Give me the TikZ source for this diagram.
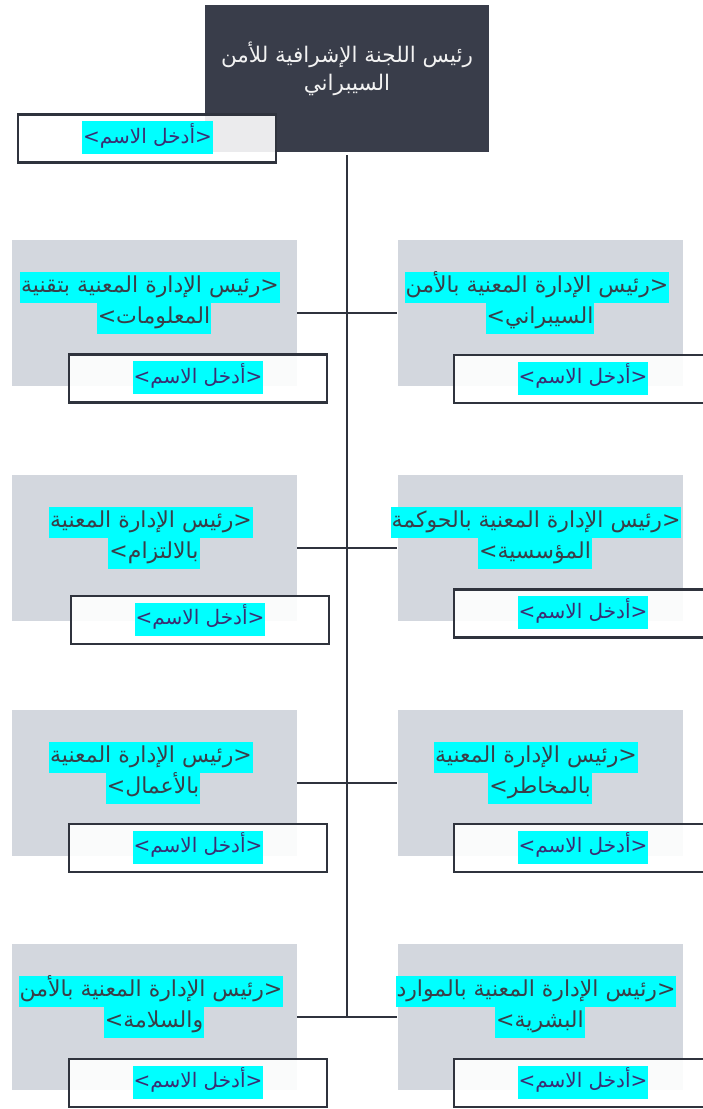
\documentclass[tikz,border=0pt]{standalone}
\usepackage{fontspec}
\newfontfamily\arabicfont[Script=Arabic]{DejaVu Sans}
\TeXXeTstate=1
\definecolor{topdark}{HTML}{393D4A}
\definecolor{boxgray}{HTML}{D3D7DE}
\definecolor{linedark}{HTML}{2F333D}
\definecolor{txtgray}{HTML}{3A3E48}
\definecolor{namecol}{HTML}{3B2E73}
\definecolor{titlecol}{HTML}{F2F2F2}
\definecolor{hlcyan}{HTML}{00FFFF}
\newcommand{\ar}[1]{\beginR #1\endR}
\tikzset{
  topbox/.style={fill=topdark, draw=none, minimum width=284pt, minimum height=147pt, inner sep=0pt},
  graybox/.style={fill=boxgray, draw=none, minimum width=285pt, minimum height=146pt, inner sep=0pt},
  namebox/.style={draw=linedark, line width=2.4pt, fill=white, fill opacity=0.9, minimum width=258pt, minimum height=48pt, inner sep=0pt},
  hl/.style={fill=hlcyan, inner xsep=1pt, inner ysep=0pt, text height=21pt, text depth=10pt, text=txtgray, font=\arabicfont\fontsize{22}{24}\selectfont},
  hlname/.style={fill=hlcyan, inner xsep=1pt, inner ysep=0pt, text height=22pt, text depth=11pt, text=namecol, font=\arabicfont\fontsize{20}{24}\selectfont},
  titletext/.style={inner sep=0pt, text=titlecol, font=\arabicfont\fontsize{21.5}{24}\selectfont},
  conn/.style={draw=linedark, line width=2.4pt},
}
\begin{document}
\begin{tikzpicture}[x=1pt,y=-1pt]
\useasboundingbox (0,0) rectangle (702,1109);
% top box
\node[topbox] (top) at (347,78.5) {};
\node[titletext, anchor=base] (t1) at (347,62) {\ar{رئيس اللجنة الإشرافية للأمن}};
\node[titletext, anchor=base] (t2) at (347,90) {\ar{السيبراني}};
% gray boxes
\node[graybox] (L1) at (154.5,313) {};
\node[graybox] (R1) at (540,313) {};
\node[graybox] (L2) at (154.5,548) {};
\node[graybox] (R2) at (540,548) {};
\node[graybox] (L3) at (154.5,783) {};
\node[graybox] (R3) at (540,783) {};
\node[graybox] (L4) at (154.5,1017) {};
\node[graybox] (R4) at (540,1017) {};
% junctions
\coordinate (j1) at (347,313);
\coordinate (j2) at (347,548);
\coordinate (j3) at (347,783);
\coordinate (j4) at (347,1017);
\draw[conn] ([yshift=-3pt]top.south) -- (j4);
\draw[conn] (L1.east) -- (j1) -- (R1.west);
\draw[conn] (L2.east) -- (j2) -- (R2.west);
\draw[conn] (L3.east) -- (j3) -- (R3.west);
\draw[conn] (L4.east) -- (j4) -- (R4.west);
% titles in gray boxes
\node[hl] (L1a) at (150,287) {\ar{<رئيس الإدارة المعنية بتقنية}};
\node[hl] (L1b) at (154,318) {\ar{المعلومات>}};
\node[hl] (R1a) at (537,287) {\ar{<رئيس الإدارة المعنية بالأمن}};
\node[hl] (R1b) at (540,318) {\ar{السيبراني>}};
\node[hl] (L2a) at (151,522) {\ar{<رئيس الإدارة المعنية}};
\node[hl] (L2b) at (154,553) {\ar{بالالتزام>}};
\node[hl] (R2a) at (536,522) {\ar{<رئيس الإدارة المعنية بالحوكمة}};
\node[hl] (R2b) at (535,553) {\ar{المؤسسية>}};
\node[hl] (L3a) at (151,757) {\ar{<رئيس الإدارة المعنية}};
\node[hl] (L3b) at (153,788) {\ar{بالأعمال>}};
\node[hl] (R3a) at (536,757) {\ar{<رئيس الإدارة المعنية}};
\node[hl] (R3b) at (540,788) {\ar{بالمخاطر>}};
\node[hl] (L4a) at (151,991) {\ar{<رئيس الإدارة المعنية بالأمن}};
\node[hl] (L4b) at (154,1022) {\ar{والسلامة>}};
\node[hl] (R4a) at (536,991) {\ar{<رئيس الإدارة المعنية بالموارد}};
\node[hl] (R4b) at (540,1022) {\ar{البشرية>}};
% name boxes
\node[namebox] (N0) at (147,138.5) {};
\node[hlname] (N0t) at (147.5,137.5) {\ar{<أدخل الاسم>}};
\node[namebox] (NL1) at (198,378.5) {};
\node[hlname] (NL1t) at (198,377.5) {\ar{<أدخل الاسم>}};
\node[namebox] (NR1) at (583,379) {};
\node[hlname] (NR1t) at (583,378) {\ar{<أدخل الاسم>}};
\node[namebox] (NL2) at (200,620) {};
\node[hlname] (NL2t) at (200,619) {\ar{<أدخل الاسم>}};
\node[namebox] (NR2) at (583,613.5) {};
\node[hlname] (NR2t) at (583,612.5) {\ar{<أدخل الاسم>}};
\node[namebox] (NL3) at (198,848) {};
\node[hlname] (NL3t) at (198,847) {\ar{<أدخل الاسم>}};
\node[namebox] (NR3) at (583,848) {};
\node[hlname] (NR3t) at (583,847) {\ar{<أدخل الاسم>}};
\node[namebox] (NL4) at (198,1083) {};
\node[hlname] (NL4t) at (198,1082) {\ar{<أدخل الاسم>}};
\node[namebox] (NR4) at (583,1083) {};
\node[hlname] (NR4t) at (583,1082) {\ar{<أدخل الاسم>}};
\end{tikzpicture}
\end{document}
